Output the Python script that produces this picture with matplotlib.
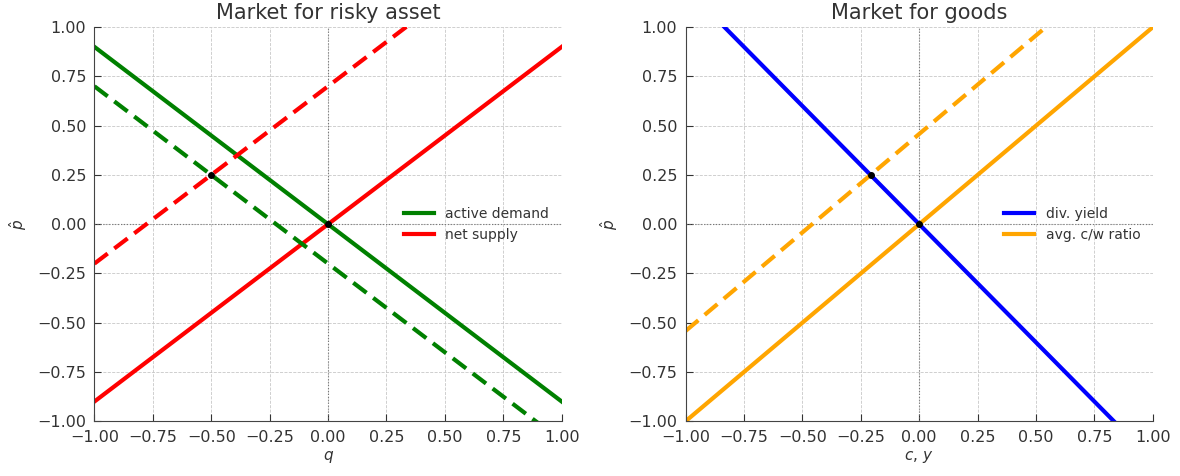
import numpy as np
import matplotlib.pyplot as plt

# Left panel: risky asset market, lines p = a + b*q
q = np.array([-1.0, 1.0])
demand_slope, demand_int, demand_int_shift = -0.9, 0.0, -0.2
supply_slope, supply_int, supply_int_shift = 0.9, 0.0, 0.7

# Right panel: goods market, lines p = a + b*c
c = np.array([-1.0, 1.0])
yield_slope, yield_int = -1.2, 0.0
cw_slope, cw_int, cw_int_shift = 1.0, 0.0, 0.458

TEXT = "#333333"
plt.rcParams.update({
    "font.size": 11,
    "text.color": TEXT,
    "axes.labelcolor": TEXT,
    "xtick.color": TEXT,
    "ytick.color": TEXT,
    "xtick.direction": "in",
    "ytick.direction": "in",
})

fig, (ax1, ax2) = plt.subplots(1, 2, figsize=(11.8, 4.76), dpi=100)
fig.subplots_adjust(left=0.08, right=0.977, bottom=0.115, top=0.943, wspace=0.265)


def style(ax):
    ax.set_xlim(-1, 1)
    ax.set_ylim(-1, 1)
    ax.set_xticks(np.arange(-1, 1.01, 0.25))
    ax.set_yticks(np.arange(-1, 1.01, 0.25))
    ax.grid(True, ls="--", lw=0.6, color="#c8c8c8")
    ax.axhline(0, color="#777777", lw=0.8, ls=":")
    ax.axvline(0, color="#777777", lw=0.8, ls=":")
    for s in ("top", "right"):
        ax.spines[s].set_visible(False)
    for s in ("left", "bottom"):
        ax.spines[s].set_color("#444444")
    ax.tick_params(length=5, labelsize=11.5, pad=6)
    ax.set_ylabel(r"$\hat{p}$", fontsize=11, labelpad=6)


lw = 3
dash = (0, (4, 2))

style(ax1)
ax1.plot(q, demand_int + demand_slope * q, color="green", lw=lw, label="active demand")
ax1.plot(q, supply_int + supply_slope * q, color="red", lw=lw, label="net supply")
ax1.plot(q, demand_int_shift + demand_slope * q, color="green", lw=lw, ls=dash)
ax1.plot(q, supply_int_shift + supply_slope * q, color="red", lw=lw, ls=dash)
q_eq = (supply_int_shift - demand_int_shift) / (demand_slope - supply_slope)
ax1.plot([0, q_eq], [0, supply_int_shift + supply_slope * q_eq], "o", color="black", ms=4, zorder=5)
ax1.set_xlabel(r"$q$", labelpad=3)
ax1.set_title("Market for risky asset", fontsize=15)
ax1.legend(loc="center right", frameon=False, fontsize=10, handlelength=2.2)

style(ax2)
ax2.plot(c, yield_int + yield_slope * c, color="blue", lw=lw, label="div. yield")
ax2.plot(c, cw_int + cw_slope * c, color="orange", lw=lw, label="avg. c/w ratio")
ax2.plot(c, cw_int_shift + cw_slope * c, color="orange", lw=lw, ls=dash)
c_eq = (cw_int_shift - yield_int) / (yield_slope - cw_slope)
ax2.plot([0, c_eq], [0, cw_int_shift + cw_slope * c_eq], "o", color="black", ms=4, zorder=5)
ax2.set_xlabel(r"$c,\, y$", labelpad=3)
ax2.set_title("Market for goods", fontsize=15)
ax2.legend(loc="center right", frameon=False, fontsize=10, handlelength=2.2)

fig.savefig("out.png", dpi=100)
